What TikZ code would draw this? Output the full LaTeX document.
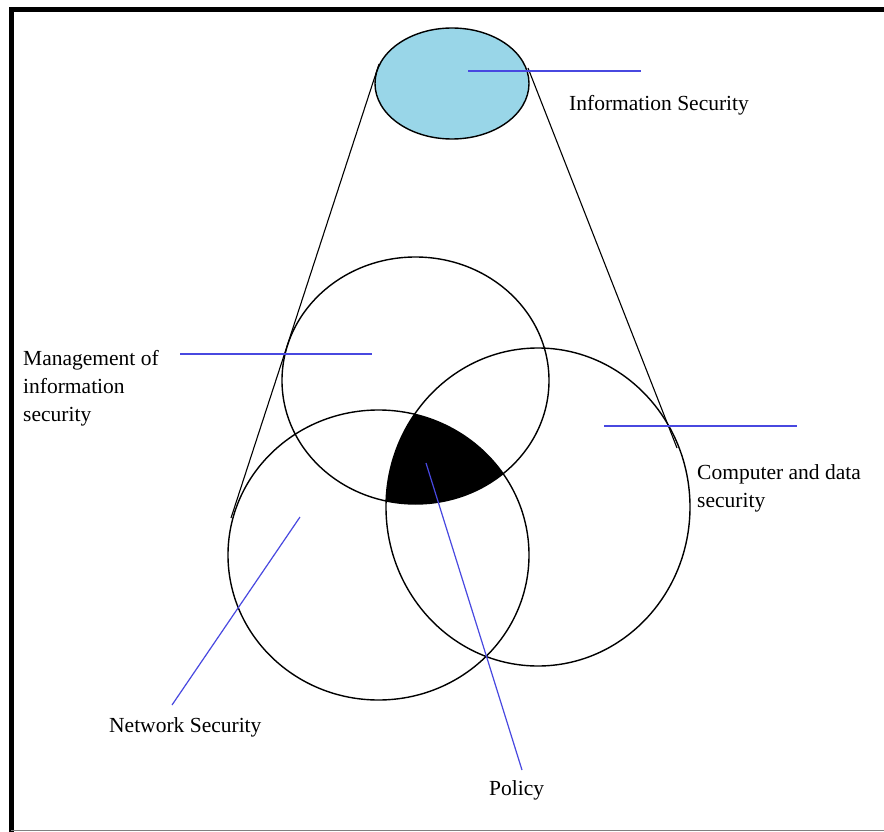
\documentclass[tikz,border=0pt]{standalone}
\usepackage{fontspec}
\setmainfont{Liberation Serif}
\definecolor{capblue}{RGB}{153,214,232}
\definecolor{leaderblue}{RGB}{72,72,224}
\begin{document}
\begin{tikzpicture}[x=1pt,y=-1pt,
  ring/.style={draw=black, line width=1.4pt},
  leader/.style={draw=leaderblue, line width=1.2pt},
  lbl/.style={font=\fontsize{21.5}{28}\selectfont, inner sep=0pt, align=left, anchor=base west}]
\useasboundingbox (0,0) rectangle (884,832);
\fill[white] (0,0) rectangle (884,832);

% page frame
\draw[line width=5pt] (11,832) -- (11,10) -- (884,10);
\draw[gray, line width=1pt] (11,830.5) -- (884,830.5);

% cone from the top ellipse down to the three sets
\coordinate (coneTL) at (379,64);
\coordinate (coneBL) at (231,518);
\coordinate (coneTR) at (528,68);
\coordinate (coneBR) at (677,448);
\draw[line width=1.1pt] (coneTL) -- (coneBL);
\draw[line width=1.1pt] (coneTR) -- (coneBR);

% information security cap
\draw[ring, fill=capblue] (452,83.5) ellipse [x radius=77, y radius=55.5];

% shared region of the three sets
\begin{scope}
  \clip (415.5,380.5) ellipse [x radius=133.5, y radius=123.5];
  \clip (378.5,555) ellipse [x radius=150.5, y radius=145];
  \fill[black] (538,507) ellipse [x radius=152, y radius=159];
\end{scope}

% the three sets
\draw[ring] (415.5,380.5) ellipse [x radius=133.5, y radius=123.5];
\draw[ring] (378.5,555) ellipse [x radius=150.5, y radius=145];
\draw[ring] (538,507) ellipse [x radius=152, y radius=159];

% labels (multi-line labels are placed by their last baseline)
\node[lbl] (infosec) at (569,111) {Information Security};
\node[lbl] (mgmt) at (23,421) {Management of\\information\\security};
\node[lbl] (comp) at (697,507) {Computer and data\\security};
\node[lbl] (net) at (109,732) {Network Security};
\node[lbl] (policy) at (489,795) {Policy};

% leader lines
\coordinate (infoA) at (468,71);   \coordinate (infoB) at (641,71);
\coordinate (mgmtA) at (180,354);  \coordinate (mgmtB) at (372,354);
\coordinate (compA) at (604,426);  \coordinate (compB) at (797,426);
\coordinate (netA) at (300,517);   \coordinate (netB) at (172,705);
\coordinate (polA) at (426,463);   \coordinate (polB) at (522,770);
\draw[leader] (infoA) -- (infoB);
\draw[leader] (mgmtA) -- (mgmtB);
\draw[leader] (compA) -- (compB);
\draw[leader] (netA) -- (netB);
\draw[leader] (polA) -- (polB);
\end{tikzpicture}
\end{document}
